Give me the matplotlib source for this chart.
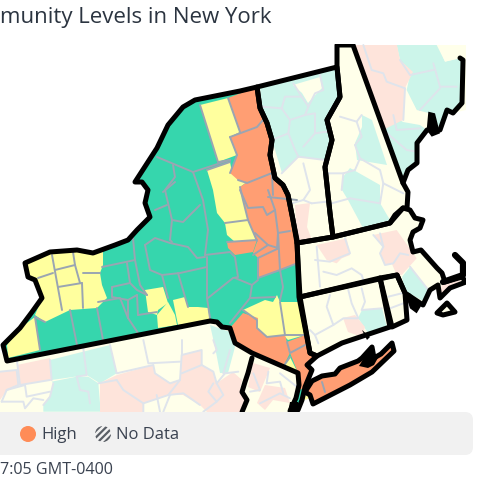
import matplotlib
matplotlib.use("Agg")
import matplotlib.pyplot as plt
from matplotlib.patches import Polygon, Circle, FancyBboxPatch, Rectangle

plt.rcParams['font.family'] = ['Open Sans', 'DejaVu Sans']
plt.rcParams['hatch.linewidth'] = 1.6

GREEN, YELLOW, ORANGE = '#36d6ad', '#ffff9e', '#ff9e73'
P_GREEN, P_YELLOW, P_ORANGE = '#ccf5ea', '#ffffea', '#fee4db'
NY_LINE, PALE_LINE, BLACK = '#9aa5b2', '#dfe4ec', '#000000'

TITLE = 'munity Levels in New York'
LEGEND_LABELS = ['High', 'No Data']
FOOTER = '7:05 GMT-0400'

def crop(ox, oy, pts):
    return [(ox + x / 3, oy + y / 3) for x, y in pts]

# ---- New York (map vertices, image pixels)
NY = [(3,345),(20,328),(32,312),(42,298),(35,280),(28,277),(25,263),(50,252),(77,250),(93,253),(115,245),(128,240),
      (137,230),(150,217),(145,203),(148,190),(142,182),(135,182),(157,148),(168,125),(183,107),(195,100),(240,91),(257,87),
      (260,108),(267,123),(272,140),(270,155),(275,178),(283,185),(288,195),(293,220),(297,240),(299,297),(310,353),(317,356),
      (307,365),(312,370),(305,387),(302,400),(298,410),(290,411),(296,398),(299,385),(298,373),(252,353),(235,343),(230,328),
      (222,327),(217,322),(210,321),(7,361)]
LONG_ISLAND = [(305,392),(312,381),(322,376),(335,374),(340,368),(358,361),(362,358),(372,347),(374,358),(381,354),
               (392,343),(394,351),(372,372),(350,385),(313,404),(310,395)]
PECONIC = [(359,366),(370,348),(373,350),(372,358),(379,356),(374,365),(368,368)]
NY_YELLOW = [
    [(200,105),(228,98),(240,132),(230,137),(237,155),(218,162)],
    [(207,170),(230,162),(232,172),(238,180),(247,182),(240,187),(243,200),(248,220),(255,235),(257,241),(235,242),(227,235),(225,223),(217,213),(213,190)],
    [(25,263),(50,252),(77,250),(93,253),(103,252),(103,265),(100,273),(102,285),(107,298),(97,308),(70,310),(45,322),(35,315),(42,298),(35,280),(28,277)],
    [(35,317),(40,350),(8,358),(7,345),(20,328)],
    [(145,290),(163,287),(168,303),(158,310),(157,315),(148,312)],
    [(157,315),(168,302),(175,315),(177,325),(158,328)],
    [(173,300),(185,297),(188,307),(198,307),(208,308),(210,320),(178,325)],
    [(243,310),(265,300),(273,302),(277,295),(280,302),(298,302),(305,335),(288,340),(283,335),(268,338),(255,328),(257,320)],
    [(283,367),(290,357),(298,373)],
    [(303,392),(312,392),(312,397),(305,400)],
]
NY_ORANGE = [
    [(228,98),(257,87),(260,108),(267,123),(272,140),(270,155),(275,178),(283,185),(288,195),(293,220),(297,240),(298,263),
     (280,270),(258,278),(258,258),(253,253),(257,242),(248,220),(243,200),(240,187),(247,182),(238,180),(230,173),(232,168),(237,155),(230,137),(240,132)],
    [(227,242),(257,240),(253,252),(235,255),(228,248)],
    [(243,313),(258,318),(257,328),(267,337),(285,335),(290,353),(283,367),(272,360),(252,353),(235,343),(230,328)],
    [(287,342),(305,335),(310,353),(317,356),(307,365),(312,370),(305,387),(300,390),(298,373),(290,353)],
    LONG_ISLAND,
]
NY_LINES = [
    [(157,157),(193,172),(230,160)],
    [(193,172),(203,200),(208,230),(205,255)],
    [(200,205),(183,222),(172,220),(170,240),(172,242)],
    [(172,220),(165,190),(175,177),(173,165)],
    [(155,210),(167,205)],[(163,192),(175,182)],
    [(205,255),(230,252),(235,257),(238,277),(233,278),(208,298)],
    [(235,278),(252,285),(258,280)],[(252,285),(250,298),(275,297)],[(250,298),(230,323)],
    [(280,270),(283,287),(280,300)],[(207,257),(207,298),(210,318)],
    [(207,267),(180,273),(162,275),(150,270),(145,245)],
    [(145,245),(155,238),(170,243),(188,247),(197,258),(205,257)],
    [(178,273),(188,307)],[(162,275),(168,298)],[(133,238),(135,260),(140,285),(147,295)],
    [(135,260),(102,267)],[(127,263),(130,283),(137,290),(147,295)],[(112,287),(130,283)],
    [(112,287),(112,297),(128,300),(137,295)],[(128,300),(128,318)],[(137,295),(138,315)],
    [(138,315),(157,312)],[(128,318),(138,333)],[(98,302),(120,298),(128,318)],
    [(70,310),(77,345)],[(97,308),(103,340)],[(45,322),(35,317)],[(35,317),(40,350)],
    [(52,255),(62,310)],[(53,273),(38,278)],[(55,270),(75,265),(73,252)],[(58,287),(82,283)],
    [(82,283),(83,308)],[(75,265),(80,283)],[(83,273),(100,273)],
    [(200,105),(218,162)],[(207,170),(230,162)],[(218,162),(230,160)],[(228,98),(240,132)],
    [(230,137),(257,127),(263,120)],[(237,155),(230,137)],[(238,180),(247,183),(272,173),(273,195)],
    [(232,168),(237,155)],[(230,173),(232,168)],[(240,187),(243,200),(248,220),(257,241)],
    [(225,223),(248,220)],[(227,242),(257,240)],[(240,190),(248,208),(263,207),(267,215),(275,210),(268,190)],
    [(275,210),(278,233),(280,270)],[(278,233),(290,231)],[(255,233),(268,245),(278,248)],
    [(268,245),(253,255)],[(258,258),(277,249)],[(278,233),(277,249)],[(258,258),(258,278)],
    [(258,278),(280,270),(298,263)],[(280,302),(285,335)],[(287,342),(290,353),(305,345)],
    [(243,310),(257,320),(257,328),(267,337),(285,335)],[(285,335),(305,335)],[(290,357),(283,367)],
    [(322,382),(325,392)],[(297,200),(268,197)],
]

# ---- Neighbouring states: pale polygons
VT = [(257,87),(337,67),(340,97),(327,120),(332,140),(325,167),(330,213),(333,237),(297,243),(293,220),(288,195),(283,185),(275,178),(270,155),(272,140),(267,123),(260,108)]
NH = [(337,45),(353,45),(403,183),(408,192),(407,208),(403,208),(390,223),(333,237),(330,213),(325,167),(332,140),(327,120),(340,97),(337,67)]
ME = [(353,45),(466,45),(466,110),(453,113),(447,110),(440,130),(427,130),(417,143),(417,163),(408,170),(403,183)]
MA = [(297,243),(333,237),(390,223),(395,215),(403,208),(410,210),(415,218),(423,220),(420,228),(413,232),(410,240),(413,252),(421,250),(437,268),
      (442,273),(445,282),(462,277),(466,282),(450,288),(440,298),(438,285),(430,290),(423,305),(405,293),(397,275),(300,297)]
CT = [(300,297),(380,278),(390,327),(342,343),(317,356),(310,353)]
RI = [(380,278),(397,275),(405,293),(407,320),(392,327)]
SOUTH = [(-5,345),(7,361),(210,321),(217,322),(222,327),(230,328),(235,343),(252,353),(298,373),(299,385),(296,398),(290,412),(-5,412)]
VINEYARD = [(437,313),(447,303),(455,312),(443,315)]
ME_COAST = [(403,183),(408,170),(417,163),(417,143),(427,130),(440,130),(447,110),(453,113),(462,103),(463,60),(460,58)]
DELAWARE = [(252,358),(248,373),(245,382),(242,392),(247,400),(242,412)]
CAPE_HOOK = [(455,255),(463,263),(463,275),(443,282)]
PALE_GREEN = [
    [(260,88),(335,68),(340,97),(327,120),(330,140),(325,160),(298,157),(282,173),(272,140),(262,107)],
    [(362,115),(372,120),(387,165),(357,160),(355,143),(362,127)],
    [(343,177),(350,168),(380,185),(380,203),(390,220),(363,228),(348,200),(342,190)],
    crop(240,0,[(470,135),(595,135),(615,185),(660,175),(672,180),(665,310),(640,340),(620,325),(600,385),(570,340),(530,330),(500,270),(510,225),(480,180)]),
    [(385,130),(393,115),(403,122),(420,125),(427,130),(417,143),(417,163),(408,170),(403,183),(387,142)],
    [(362,310),(382,308),(387,327),(368,333),(358,318)],
    [(402,277),(410,267),(428,290),(425,302),(405,291)],
    crop(0,340,[(150,60),(330,15),(350,100),(300,130),(260,105),(155,120)]),
    crop(0,340,[(155,125),(230,110),(265,110),(295,130),(300,190),(300,215),(130,215),(130,195),(150,170),(160,130)]),
    [(210,325),(230,332),(235,347),(228,373),(220,373),(215,347)],
]
PALE_YELLOW = [
    [(293,85),(320,77),(322,88),(308,103),(302,93)],
    crop(240,0,[(590,135),(680,135),(675,170),(615,185)]),
    crop(240,0,[(495,265),(540,350),(520,370),(490,360)]),
]
PALE_ORANGE = [
    [(295,205),(310,203),(307,227),(312,240),(297,240)],
    [(355,45),(397,45),(400,60),(413,72),(405,88),(403,120),(383,130)],
    crop(290,230,[(80,45),(170,25),(180,75),(155,85),(140,100),(110,90)]),
    crop(290,230,[(250,15),(320,0),(380,85),(335,135),(320,135),(305,100),(285,105),(270,70),(280,50)]),
    [(442,282),(465,278),(450,288),(440,298)],
    [(343,318),(355,315),(365,327),(362,337),(348,332)],
    [(17,365),(50,358),(52,380),(20,385)],
    [(0,372),(17,370),(18,385),(7,390),(0,400)],
    [(117,375),(153,365),(155,373),(170,383),(180,380),(182,355),(202,350),(202,365),(213,372),(217,383),(233,372),(242,380),(240,390),(247,400),(242,412),
     (207,412),(200,405),(183,395),(168,395),(143,403),(143,412),(100,412),(100,383)],
    [(253,363),(270,368),(260,392),(248,387)],
    [(265,385),(285,388),(290,403),(273,400),(265,410),(257,403)],
]
PALE_LINES_Z2 = [
    [(65,320),(125,325),(150,360),(145,400),(165,450),(175,470)],
    [(125,325),(135,290),(185,290),(205,320),(225,280),(250,270),(240,225)],
    [(160,250),(185,290)],[(205,320),(195,345),(150,360)],[(195,345),(225,340),(225,400),(190,440)],
    [(225,400),(260,395)],[(95,420),(145,400)],[(175,470),(255,480)],[(175,470),(125,520)],
    [(190,490),(210,570),(190,600),(215,610)],[(215,610),(260,605)],[(155,610),(190,600)],
    [(300,350),(350,365),(365,345)],[(350,365),(365,410),(345,435)],[(345,435),(360,475),(345,510)],
    [(360,475),(420,510),(430,550),(420,610)],[(430,550),(490,580)],[(265,520),(310,520),(345,510)],
    [(310,520),(305,570)],[(330,595),(275,610)],[(330,595),(420,610)],
    [(370,135),(395,210),(430,220),(440,245),(495,265)],[(480,180),(510,225),(580,210)],
    [(580,190),(600,260),(650,260)],[(540,330),(600,265)],[(490,360),(495,265)],
    [(430,390),(500,450),(530,455)],[(460,345),(470,390),(540,385)],
]
PALE_LINES_Z7 = [
    [(80,50),(90,170)],[(75,90),(120,95),(155,80),(180,70),(165,25)],[(100,125),(140,135),(185,115),(215,135),(220,150)],
    [(270,10),(280,50),(270,70),(285,105),(310,100),(330,70),(355,75)],[(250,15),(280,50)],
    [(120,195),(110,230),(130,285),(75,315),(60,300)],[(175,180),(185,220),(205,265),(160,265),(130,285)],
    [(215,175),(225,215),(215,240),(275,235)],[(295,200),(335,190)],[(300,235),(340,220)],[(360,110),(415,180)],
    [(75,315),(85,340)],
]
PALE_LINES_Z8 = [
    [(0,95),(50,90),(55,135),(20,150),(5,185)],[(50,55),(60,135),(150,120)],[(150,60),(155,120)],[(250,25),(260,105),(230,110)],
    [(330,15),(350,100),(460,75),(465,100),(510,130),(540,120),(545,45),(605,30),(605,75),(640,95),(650,130),(675,100),(715,95)],
    [(430,0),(445,70),(540,65)],[(545,0),(545,45)],[(640,0),(650,30),(640,40)],[(545,100),(605,75)],
    [(350,120),(370,150),(430,190),(430,215)],[(295,130),(350,120)],[(540,120),(505,165),(430,190)],
    [(230,110),(240,150),(265,155),(270,190)],[(160,130),(150,170),(130,195)],[(75,135),(80,170),(150,155)],
    [(20,150),(75,135)],[(5,185),(70,185),(75,205),(100,175),(130,180)],[(510,165),(490,215)],[(470,165),(480,215)],
    [(640,130),(625,155),(650,185),(610,215)],[(650,130),(670,165),(650,185)],[(600,195),(550,160),(505,165)],
    [(760,100),(780,150),(750,155)],[(805,95),(800,130),(840,125),(850,160)],[(840,100),(890,140)],[(780,190),(840,160),(870,175)],
    [(690,30),(670,100)],
]

fig = plt.figure(figsize=(4.8, 4.8), dpi=100)
ax = fig.add_axes([0, 0, 1, 1])
ax.set_xlim(0, 480); ax.set_ylim(480, 0); ax.axis('off')
clip = Rectangle((0, 44), 466, 368, transform=ax.transData)

def fill(pts, color, lw=0, ec='none', z=1):
    p = Polygon(pts, closed=True, fc=color, ec=ec, lw=lw, joinstyle='round', zorder=z)
    ax.add_patch(p); p.set_clip_path(clip)

def line(pts, color, lw, z):
    xs, ys = zip(*pts)
    l, = ax.plot(xs, ys, color=color, lw=lw, zorder=z, solid_joinstyle='round', solid_capstyle='round')
    l.set_clip_path(clip)

for s in (VT, NH, ME, MA, CT, RI, SOUTH, VINEYARD):
    fill(s, P_YELLOW, z=1)
for polys, c in ((PALE_GREEN, P_GREEN), (PALE_YELLOW, P_YELLOW), (PALE_ORANGE, P_ORANGE)):
    for q in polys:
        fill(q, c, z=2)
for group, ox, oy in ((PALE_LINES_Z2, 240, 0), (PALE_LINES_Z7, 290, 230), (PALE_LINES_Z8, 0, 340)):
    for q in group:
        line(crop(ox, oy, q), PALE_LINE, 1.4, 3)

fill(NY, GREEN, z=4)
for q in NY_YELLOW:
    fill(q, YELLOW, z=5)
for q in NY_ORANGE:
    fill(q, ORANGE, z=5)
for q in NY_LINES:
    line(q, NY_LINE, 1.4, 6)

for s in (NY, LONG_ISLAND, VT, NH, MA, CT, RI, VINEYARD):
    fill(s, 'none', lw=3.6, ec=BLACK, z=7)
for q in (ME_COAST, DELAWARE):
    line(q, BLACK, 3.6, 7)
line(CAPE_HOOK, BLACK, 4.5, 7)
fill(PECONIC, BLACK, z=8)
fill(crop(290, 230, [(345,185),(360,190),(395,225),(380,250),(360,235),(350,205)]), BLACK, z=8)
fill(crop(240, 0, [(565,335),(585,340),(600,400),(575,410),(560,390)]), BLACK, z=8)
fill([(290,402),(298,402),(298,412),(288,412)], BLACK, z=8)
fill([(362,330),(370,337),(367,340)], BLACK, z=8)

# ---- Title, legend panel, footer
ax.text(0, 17, TITLE, fontsize=16, color='#2b3440', va='center', ha='left', zorder=10)
ax.add_patch(FancyBboxPatch((-20, 412), 493, 43, boxstyle='round,pad=0,rounding_size=8',
                            fc='#f1f1f1', ec='none', zorder=9))
ax.add_patch(Circle((28, 434), 8, fc='#ff8c57', ec='none', zorder=10))
ax.add_patch(Circle((103, 434), 8, fc='#f1f1f1', ec='#5a5f66', lw=0, hatch='/////', zorder=10))
ax.text(41, 435, LEGEND_LABELS[0], fontsize=12, color='#3a4250', va='center', zorder=11)
ax.text(116, 435, LEGEND_LABELS[1], fontsize=12, color='#3a4250', va='center', zorder=11)
ax.text(0, 470, FOOTER, fontsize=11.6, color='#3a4250', va='center', zorder=11)

fig.savefig('out.png', dpi=100)
